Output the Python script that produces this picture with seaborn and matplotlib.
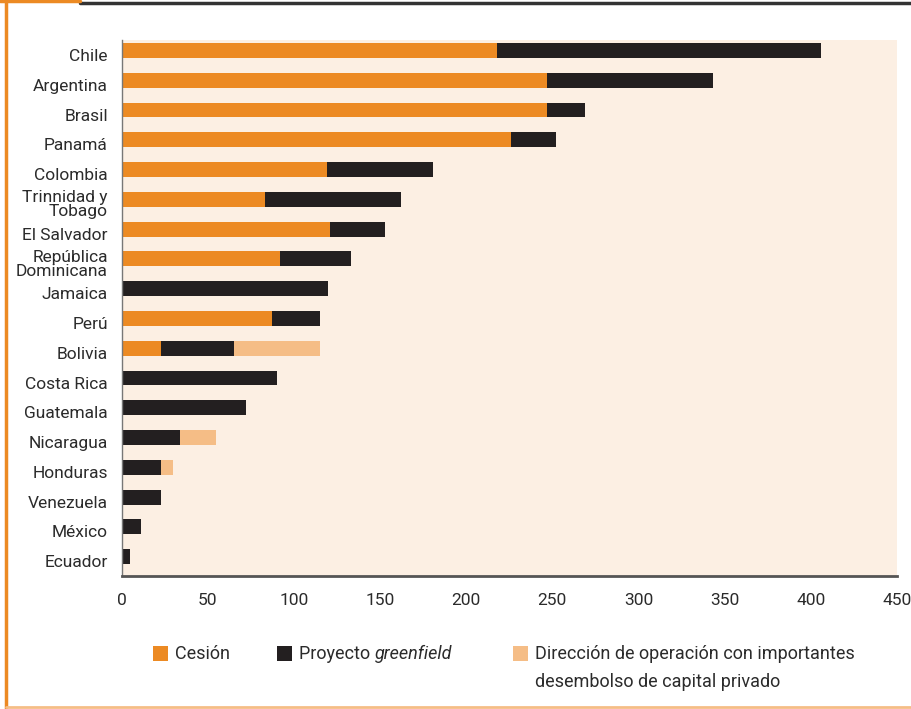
import matplotlib
matplotlib.use("Agg")
import matplotlib.pyplot as plt
from matplotlib.patches import Rectangle
from matplotlib.lines import Line2D
import seaborn as sns
import pandas as pd
import numpy as np

countries = ["Chile", "Argentina", "Brasil", "Panamá", "Colombia",
             "Trinnidad y\nTobago", "El Salvador", "República\nDominicana",
             "Jamaica", "Perú", "Bolivia", "Costa Rica", "Guatemala",
             "Nicaragua", "Honduras", "Venezuela", "México", "Ecuador"]
cesion = [218, 247, 247, 226, 119, 83, 121, 92, 0, 87, 23, 0, 0, 0, 0, 0, 0, 0]
greenfield = [188, 96, 22, 26, 62, 79, 32, 41, 120, 28, 42, 90, 72, 34, 23, 23, 11, 5]
direccion = [0, 0, 0, 0, 0, 0, 0, 0, 0, 0, 50, 0, 0, 21, 7, 0, 0, 0]
x_ticks = [0, 50, 100, 150, 200, 250, 300, 350, 400, 450]
legend_labels = ["Cesión", "Proyecto ", "greenfield",
                 "Dirección de operación con importantes",
                 "desembolso de capital privado"]

ORANGE = "#EC8A23"
BLACK = "#231F20"
LIGHT = "#F5BD86"
PEACH = "#FCEFE3"
TEXT = "#2b2b2b"

sns.set_theme(style="white")
plt.rcParams["font.family"] = ["Roboto", "DejaVu Sans"]

df = pd.DataFrame({"country": countries, "cesion": cesion,
                   "greenfield": greenfield, "direccion": direccion})
df["c_g"] = df["cesion"] + df["greenfield"]
df["total"] = df["c_g"] + df["direccion"]

W, H = 912, 709
fig = plt.figure(figsize=(W / 100, H / 100), dpi=100)
ax = fig.add_axes([0.1334, 0.1875, 0.850, 0.756])
ax.set_facecolor(PEACH)

# stacked bars drawn back to front: cumulative totals
for col, color in [("total", LIGHT), ("c_g", BLACK), ("cesion", ORANGE)]:
    sns.barplot(data=df, y="country", x=col, color=color, orient="h",
                width=0.5, ax=ax, saturation=1, edgecolor="none",
                order=countries)

# bars sit slightly above the middle of each labelled row
n = len(countries)
off = 0.15
ax.set_xlim(0, 450)
ax.set_ylim(n - 0.5 + off, -0.5 + off)
ax.set_xticks(x_ticks)
ax.set_xticklabels([str(t) for t in x_ticks], fontsize=12.5, color=TEXT)
ax.set_yticks(np.arange(n) + off)
ax.set_yticklabels(countries, fontsize=12.5, color=TEXT, linespacing=0.9)
ax.set_xlabel("")
ax.set_ylabel("")

# y ticks sit on row boundaries
ax.set_yticks(np.arange(-0.5, n, 1) + off, minor=True)
ax.tick_params(axis="y", which="major", length=0, pad=10)
ax.tick_params(axis="y", which="minor", length=6, width=1, color="#777777",
               direction="out")
ax.tick_params(axis="x", which="major", length=8, width=1, color="#777777",
               direction="out", pad=4)

for side in ["top", "right"]:
    ax.spines[side].set_visible(False)
ax.spines["bottom"].set_color("#555555")
ax.spines["bottom"].set_linewidth(2)
ax.spines["left"].set_color("#777777")
ax.spines["left"].set_linewidth(1)

# legend: square swatch followed by its label
def px(x, y):
    return x / W, 1 - y / H

base_y = 659
for sx, color in [(153, ORANGE), (277, BLACK), (513, LIGHT)]:
    x0, y0 = px(sx, 661)
    fig.add_artist(Rectangle((x0, y0), 15 / W, 15 / H, transform=fig.transFigure,
                             facecolor=color, edgecolor="none"))

kw = dict(fontsize=13, color=TEXT, ha="left", va="baseline")
fig.text(*px(175, base_y), legend_labels[0], **kw)
t_pro = fig.text(*px(299, base_y), legend_labels[1], **kw)
renderer = fig.canvas.get_renderer()
pro_w = t_pro.get_window_extent(renderer).width
fig.text(*px(299 + pro_w, base_y), legend_labels[2], style="italic", **kw)
fig.text(*px(535, base_y), legend_labels[3], **kw)
fig.text(*px(535, base_y + 28), legend_labels[4], **kw)

# page frame lines
fig.add_artist(Line2D([0.088, 1.0], [0.9955, 0.9955], transform=fig.transFigure,
                      color="#333333", linewidth=2.5))
fig.add_artist(Line2D([0.0, 0.088], [0.998, 0.998], transform=fig.transFigure,
                      color=ORANGE, linewidth=2.5))
fig.add_artist(Line2D([0.007, 0.007], [0.0, 1.0], transform=fig.transFigure,
                      color=ORANGE, linewidth=2.5))
fig.add_artist(Line2D([0.007, 1.0], [0.003, 0.003], transform=fig.transFigure,
                      color=LIGHT, linewidth=2))

fig.savefig("out.png", dpi=100, facecolor="white")
